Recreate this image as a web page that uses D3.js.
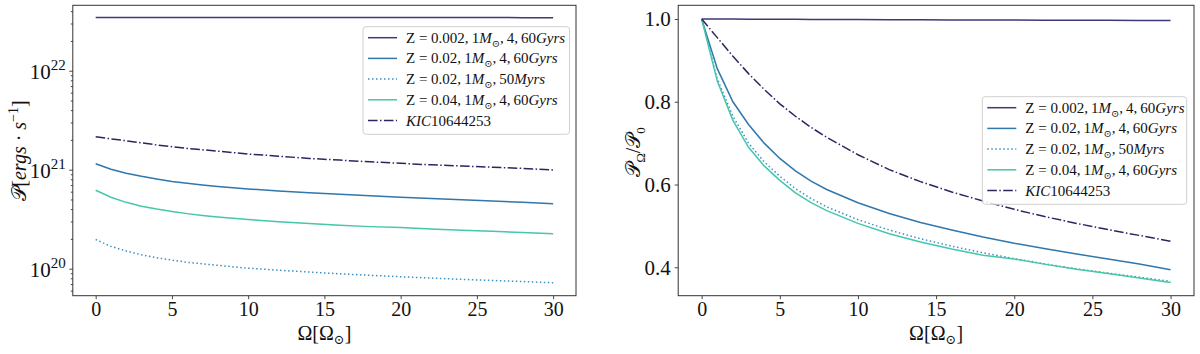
<!DOCTYPE html>
<html><head><meta charset="utf-8">
<script src="https://cdn.jsdelivr.net/npm/d3@7"></script>
<style>
body{margin:0;background:#fff;}
svg{display:block;}
svg text{font-family:"Liberation Serif","DejaVu Serif",serif;}
</style></head><body>
<svg id="c" width="1200" height="354"></svg>
<script>
// ---- data ----
const omega = [0,1,2,3,4,5,6,7,8,10,12,14,16,18,20,22,24,26,28,30];
// left panel: power [ergs/s]
const pZ002 = [3.450e22,3.450e22,3.449e22,3.449e22,3.448e22,3.448e22,3.448e22,3.447e22,3.447e22,3.446e22,3.445e22,3.444e22,3.443e22,3.443e22,3.442e22,3.441e22,3.440e22,3.440e22,3.439e22,3.438e22];
const pZ02 = [1.15e21,1.01e21,0.92e21,0.857e21,0.805e21,0.762e21,0.728e21,0.699e21,0.676e21,0.639e21,0.610e21,0.584e21,0.564e21,0.544e21,0.527e21,0.512e21,0.497e21,0.483e21,0.469e21,0.453e21];
const pZ02y = [1.97e20,1.68e20,1.51e20,1.38e20,1.29e20,1.22e20,1.16e20,1.12e20,1.08e20,1.01e20,0.965e20,0.924e20,0.888e20,0.857e20,0.829e20,0.804e20,0.780e20,0.760e20,0.741e20,0.721e20];
const pZ04 = [6.2e20,5.27e20,4.68e20,4.28e20,4.0e20,3.78e20,3.6e20,3.45e20,3.33e20,3.14e20,2.98e20,2.86e20,2.75e20,2.66e20,2.60e20,2.52e20,2.45e20,2.39e20,2.32e20,2.25e20];
const pKIC = [2.15e21,2.05e21,1.96e21,1.87e21,1.78e21,1.71e21,1.64e21,1.59e21,1.54e21,1.44e21,1.37e21,1.30e21,1.25e21,1.20e21,1.16e21,1.12e21,1.09e21,1.06e21,1.03e21,0.995e21];
// right panel: ratio P_Omega / P_0
const rZ002 = [1.000,1.000,0.9998,0.9996,0.9995,0.9993,0.9992,0.999,0.9988,0.9985,0.9983,0.998,0.9978,0.9976,0.9974,0.9972,0.997,0.9968,0.9966,0.9965];
const rZ02 = [1.0,0.88,0.80,0.745,0.70,0.663,0.633,0.608,0.588,0.556,0.530,0.508,0.490,0.473,0.458,0.445,0.432,0.420,0.408,0.394];
const rZ02y = [1.0,0.855,0.765,0.70,0.655,0.62,0.59,0.566,0.546,0.515,0.49,0.469,0.451,0.435,0.421,0.408,0.396,0.386,0.376,0.366];
const rZ04 = [1.0,0.85,0.755,0.69,0.645,0.61,0.58,0.556,0.537,0.506,0.481,0.461,0.444,0.429,0.42,0.407,0.395,0.385,0.374,0.363];
const rKIC = [1.0,0.955,0.91,0.868,0.83,0.795,0.765,0.738,0.714,0.672,0.636,0.607,0.582,0.56,0.54,0.522,0.506,0.491,0.477,0.463];
const xTicks = [0,5,10,15,20,25,30];
const yTicksR = [0.4,0.6,0.8,1.0];
const yTicksL = [1e20,1e21,1e22];

const TS = "\u2009";
const labels = [
  [["Z = 0.002,"+TS+"1","n"],["M","i"],["⊙","s"],[","+TS+"4,"+TS+"60","n"],["Gyrs","i"]],
  [["Z = 0.02,"+TS+"1","n"],["M","i"],["⊙","s"],[","+TS+"4,"+TS+"60","n"],["Gyrs","i"]],
  [["Z = 0.02,"+TS+"1","n"],["M","i"],["⊙","s"],[","+TS+"50","n"],["Myrs","i"]],
  [["Z = 0.04,"+TS+"1","n"],["M","i"],["⊙","s"],[","+TS+"4,"+TS+"60","n"],["Gyrs","i"]],
  [["KIC","i"],["10644253","n"]]
];
const colors = ["#3d3a78","#2f77ad","#3a8fc4","#45c7aa","#2d2560"];
const dashList = [null,null,"1.5,2.5",null,"9.6,2.4,1.5,2.4"];
const SERIF = "'Liberation Serif', 'DejaVu Serif', serif";

const svg = d3.select("#c");
svg.append("rect").attr("width",1200).attr("height",354).attr("fill","#fff");

function styleAxis(g){
  g.attr("font-family",null).attr("font-size",null);
  g.selectAll(".domain").remove();
  g.selectAll("line").attr("stroke","#333").attr("stroke-width",0.9);
  g.selectAll("text").attr("fill","#111").style("font-family",SERIF);
}

function panel(cfg){
  const {x0,x1,y0,y1,yScale,series,legendBox} = cfg;
  const x = d3.scaleLinear().domain([-1.5,31.5]).range([x0,x1]);
  const g = svg.append("g");
  series.forEach((s,i)=>{
    const line = d3.line().x((d,j)=>x(omega[j])).y(d=>yScale(d));
    g.append("path").datum(s).attr("d",line).attr("fill","none")
      .attr("stroke",colors[i]).attr("stroke-width",1.5)
      .attr("stroke-dasharray",dashList[i]);
  });
  const ax = g.append("g").attr("transform",`translate(0,${y1})`)
    .call(d3.axisBottom(x).tickValues(xTicks).tickSize(3.5).tickPadding(3).tickFormat(d3.format("d")));
  styleAxis(ax);
  ax.selectAll("text").style("font-size","20px");
  g.append("rect").attr("x",x0).attr("y",y0).attr("width",x1-x0).attr("height",y1-y0)
    .attr("fill","none").attr("stroke","#333").attr("stroke-width",1);
  const xl = g.append("text").attr("x",(x0+x1)/2).attr("y",y1+44).attr("text-anchor","middle")
    .style("font-size","20px").style("font-family",SERIF).attr("fill","#111");
  xl.append("tspan").text("Ω[Ω");
  xl.append("tspan").text("⊙").style("font-size","13px").attr("dy",4);
  xl.append("tspan").text("]").attr("dy",-4);
  const L = legendBox;
  const lg = g.append("g");
  lg.append("rect").attr("x",L.x).attr("y",L.y).attr("width",L.w).attr("height",L.h)
    .attr("rx",3).attr("fill","#fff").attr("fill-opacity",0.85).attr("stroke","#d0d0d0");
  labels.forEach((lab,i)=>{
    const cy = L.y + 11 + i*20.7;
    lg.append("line").attr("x1",L.x+5).attr("x2",L.x+34).attr("y1",cy).attr("y2",cy)
      .attr("stroke",colors[i]).attr("stroke-width",1.5).attr("stroke-dasharray",dashList[i]);
    const t = lg.append("text").attr("x",L.x+43).attr("y",cy+5).style("font-size","15px")
      .style("font-family",SERIF).attr("fill","#111");
    let sub=false;
    lab.forEach(([txt,st])=>{
      const ts = t.append("tspan").text(txt);
      if(st==="i") ts.style("font-style","italic");
      if(st==="s"){ ts.style("font-size","10px").attr("dy",4); sub=true; }
      else if(sub){ ts.attr("dy",-4); sub=false; }
    });
  });
  return g;
}

// ---- left panel ----
const yL = d3.scaleLog().domain([Math.pow(10,19.727),Math.pow(10,22.661)]).range([295.7,5.3]);
const gl = panel({x0:72.8,x1:576,y0:5.3,y1:295.7,yScale:yL,
  series:[pZ002,pZ02,pZ02y,pZ04,pKIC],
  legendBox:{x:363,y:26.7,w:206.5,h:107.6}});
const minors=[];
for(let e=19;e<=22;e++) for(let m=2;m<=9;m++){const v=m*Math.pow(10,e); if(v>yL.domain()[0]&&v<yL.domain()[1]) minors.push(v);}
const mnr = gl.append("g").attr("transform","translate(72.8,0)")
  .call(d3.axisLeft(yL).tickValues(minors).tickSize(2).tickFormat(""));
styleAxis(mnr);
const ayl = gl.append("g").attr("transform","translate(72.8,0)")
  .call(d3.axisLeft(yL).tickValues(yTicksL).tickSize(3.5).tickPadding(5).tickFormat(""));
styleAxis(ayl);
ayl.selectAll(".tick").each(function(d){
  const t = d3.select(this).append("text").attr("x",-7).attr("y",8).attr("text-anchor","end")
    .attr("fill","#111").style("font-size","21px").style("font-family",SERIF);
  t.append("tspan").text("10");
  t.append("tspan").text(String(Math.round(Math.log10(d)))).style("font-size","15px").attr("dy",-9);
});
const ylab = gl.append("text").attr("transform","translate(26,150.5) rotate(-90)")
  .attr("text-anchor","middle").style("font-size","20px").style("font-family",SERIF).attr("fill","#111");
ylab.append("tspan").text("𝒫").style("font-family","DejaVu Sans, Noto Sans, serif");
ylab.append("tspan").text("[");
ylab.append("tspan").text("ergs").style("font-style","italic");
ylab.append("tspan").text(" · ");
ylab.append("tspan").text("s").style("font-style","italic");
ylab.append("tspan").text("−1").style("font-size","14px").attr("dy",-8);
ylab.append("tspan").text("]").attr("dy",8);

// ---- right panel ----
const yR = d3.scaleLinear().domain([0.3313,1.0331]).range([295.7,5.3]);
const gr = panel({x0:678.2,x1:1194,y0:5.3,y1:295.7,yScale:yR,
  series:[rZ002,rZ02,rZ02y,rZ04,rKIC],
  legendBox:{x:982.3,y:96.7,w:204.4,h:107.6}});
const ayr = gr.append("g").attr("transform","translate(678.2,0)")
  .call(d3.axisLeft(yR).tickValues(yTicksR).tickSize(3.5).tickPadding(4).tickFormat(d3.format(".1f")));
styleAxis(ayr);
ayr.selectAll("text").style("font-size","21px");
const yrl = gr.append("text").attr("transform","translate(640,152) rotate(-90)")
  .attr("text-anchor","middle").style("font-size","20px").style("font-family",SERIF).attr("fill","#111");
yrl.append("tspan").text("𝒫").style("font-family","DejaVu Sans, Noto Sans, serif");
yrl.append("tspan").text("Ω").style("font-size","13px").attr("dy",5);
yrl.append("tspan").text("/").attr("dy",-5);
yrl.append("tspan").text("𝒫").style("font-family","DejaVu Sans, Noto Sans, serif");
yrl.append("tspan").text("0").style("font-size","13px").attr("dy",5);
</script></body></html>
